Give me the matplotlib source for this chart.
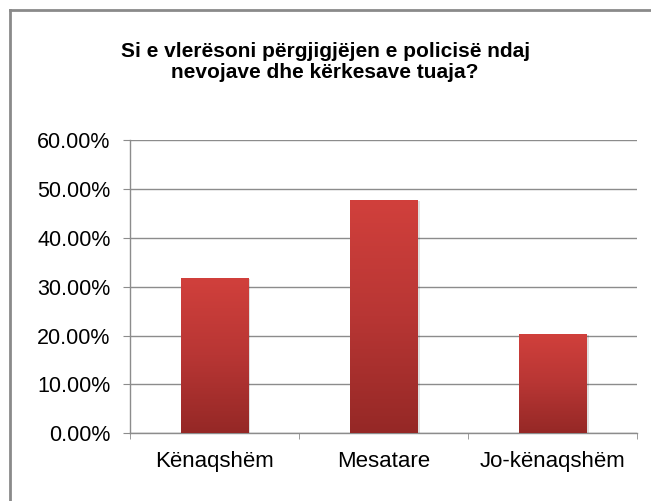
import numpy as np
import matplotlib.pyplot as plt
from matplotlib.lines import Line2D
from matplotlib.colors import LinearSegmentedColormap
from matplotlib.ticker import PercentFormatter

# Survey answers
categories = ["Kënaqshëm", "Mesatare", "Jo-kënaqshëm"]
values = [31.8, 47.8, 20.3]
title = "Si e vlerësoni përgjigjëjen e policisë ndaj\nnevojave dhe kërkesave tuaja?"
yticks = [0, 10, 20, 30, 40, 50, 60]

plt.rcParams['font.family'] = ['Liberation Sans', 'DejaVu Sans']

fig = plt.figure(figsize=(6.51, 5.01), dpi=100)
ax = fig.add_axes([0.1997, 0.135, 0.7795, 0.5856])

x = np.arange(len(categories))
bars = ax.bar(x, values, width=0.40, color='none', edgecolor='none', zorder=3)

# vertical red gradient inside each bar
grad = LinearSegmentedColormap.from_list('redgrad', ['#952826', '#b83634', '#d1403c'])
g = np.linspace(0, 1, 256).reshape(-1, 1)
for b in bars:
    x0, w, h = b.get_x(), b.get_width(), b.get_height()
    # faint shadow
    ax.bar(x0 + w / 2 + 0.012, h, width=w, bottom=-0.25, color='#000000', alpha=0.12,
           zorder=2.5, edgecolor='none')
    im = ax.imshow(g, extent=[x0, x0 + w, 0, h], origin='lower', cmap=grad,
                   aspect='auto', zorder=3)
    im.set_clip_path(b)

ax.set_xlim(-0.5, len(categories) - 0.5)
ax.set_ylim(0, 60)
ax.set_yticks(yticks)
ax.yaxis.set_major_formatter(PercentFormatter(decimals=2))
ax.set_xticks(x)
ax.set_xticklabels(categories)
ax.set_xticks(np.arange(len(categories) + 1) - 0.5, minor=True)

ax.grid(axis='y', color='#8c8c8c', linewidth=1.0, zorder=0)
ax.set_axisbelow(True)
for s in ['top', 'right']:
    ax.spines[s].set_visible(False)
for s in ['left', 'bottom']:
    ax.spines[s].set_color('#8c8c8c')
    ax.spines[s].set_linewidth(1.0)

ax.tick_params(axis='y', length=5, color='#8c8c8c', labelsize=15.5, pad=9)
ax.tick_params(axis='x', which='major', length=0, labelsize=16, pad=13)
ax.tick_params(axis='x', which='minor', length=4, color='#8c8c8c')

fig.text(0.4995, 1 - 62 / 501, title, ha='center', va='center',
         fontsize=15, fontweight='bold', linespacing=1.15)

# outer chart frame
fig.add_artist(Line2D([9.5, 9.5], [0, 491], transform=None, color='#8a8a8a', lw=2))
fig.add_artist(Line2D([9.5, 651], [491, 491], transform=None, color='#8a8a8a', lw=2))

fig.savefig('out.png', dpi=100)
